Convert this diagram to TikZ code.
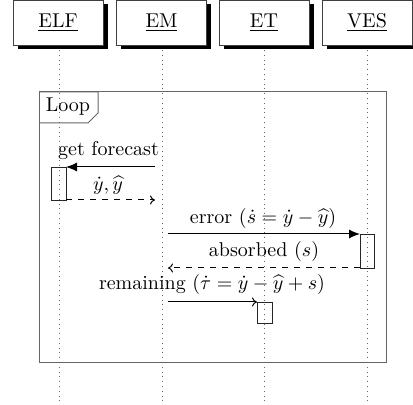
\documentclass[tikz,border=0pt]{standalone}
\usetikzlibrary{arrows.meta}
\begin{document}
\begin{tikzpicture}[x=0.5pt,y=-0.5pt,
  inst/.style={draw=black!75, fill=white, minimum width=45pt, minimum height=22.5pt, inner sep=0pt},
  lifeline/.style={dotted, draw=black!60, line width=0.4pt},
  act/.style={draw=black!85, line width=0.4pt},
  callmsg/.style={-{Latex[length=5.5pt,width=4.5pt]}, line width=0.5pt},
  retmsg/.style={-{To[length=2.5pt,width=4.5pt]}, dashed, line width=0.5pt},
  msg/.style={-{To[length=2.5pt,width=4.5pt]}, line width=0.5pt},
  lbl/.style={inner sep=0pt, font=\normalsize},
  frame/.style={draw=black!60, line width=0.5pt}]
\useasboundingbox (0,0) rectangle (413,405);
% shadows
\foreach \cx in {58,161.5,264,367}{
  \fill[black] (\cx-45+4.5,4) rectangle (\cx+45+4.5,49);
}
\node[inst] (elf) at (58,22.5) {\underline{ELF}};
\node[inst] (em) at (161.5,22.5) {\underline{EM}};
\node[inst] (et) at (264,22.5) {\underline{ET}};
\node[inst] (ves) at (367,22.5) {\underline{VES}};
% lifelines
\coordinate (elfb) at (59,402);
\coordinate (emb) at (162,402);
\coordinate (etb) at (264,402);
\coordinate (vesb) at (367,402);
\draw[lifeline] (59,50) -- (elfb);
\draw[lifeline] (162,50) -- (emb);
\draw[lifeline] (264,50) -- (etb);
\draw[lifeline] (367,50) -- (vesb);
% loop frame
\draw[frame] (39,92) rectangle (386,363);
\draw[frame] (39,92) -- (98,92) -- (98,113) -- (88,123) -- (39,123);
\node[lbl] (loop) at (68,107) {Loop};
% activations
\draw[act] (51,167) rectangle (66,200);
\draw[act] (360,234) rectangle (374,268);
\draw[act] (257,302) rectangle (272,323);
% messages
\coordinate (m1s) at (155,167); \coordinate (m1e) at (66,167);
\draw[callmsg] (m1s) -- (m1e);
\node[lbl] (l1) at (108.5,151) {get forecast};
\coordinate (r1s) at (66,200); \coordinate (r1e) at (155,200);
\draw[retmsg] (r1s) -- (r1e);
\node[lbl] (l2) at (108,185) {$\dot{y},\widehat{y}$};
\coordinate (m2s) at (168,234); \coordinate (m2e) at (360,234);
\draw[callmsg] (m2s) -- (m2e);
\node[lbl] (l3) at (263,219) {error ($\dot{s}=\dot{y}-\widehat{y}$)};
\coordinate (r2s) at (360,268); \coordinate (r2e) at (168,268);
\draw[retmsg] (r2s) -- (r2e);
\node[lbl] (l4) at (264,252) {absorbed ($s$)};
\coordinate (m3s) at (168,302); \coordinate (m3e) at (257,302);
\draw[msg] (m3s) -- (m3e);
\node[lbl] (l5) at (212,285) {remaining ($\dot{\tau}=\dot{y}-\widehat{y}+s$)};
\end{tikzpicture}
\end{document}
